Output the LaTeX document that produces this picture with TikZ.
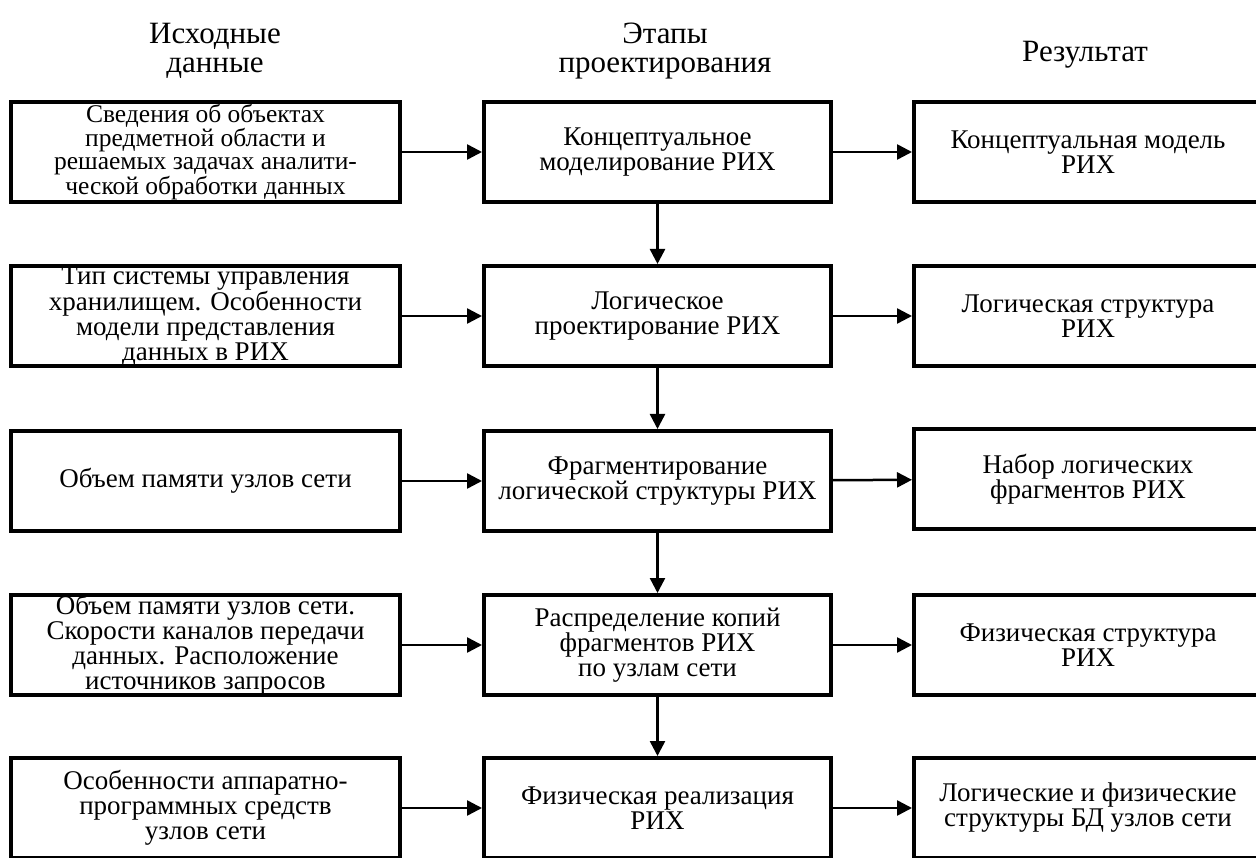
\documentclass[tikz,border=0pt]{standalone}
\usepackage{fontspec}
\setmainfont{Liberation Serif}
\usetikzlibrary{arrows.meta}

\begin{document}
\begin{tikzpicture}[x=1pt,y=1pt,
		box/.style={draw,line width=4pt,inner sep=0pt,minimum height=100pt,align=center,font=\fontsize{27}{25}\selectfont},
		src/.style={box,minimum width=389pt},
		stage/.style={box,minimum width=347pt},
		res/.style={box,minimum width=348pt},
		head/.style={align=center,font=\fontsize{31}{29}\selectfont},
		arr/.style={line width=2.5pt,-{Triangle[length=15pt,width=15pt]}}]
	\useasboundingbox (0,0) rectangle (1256,-858);
	\clip (0,0) rectangle (1256,-858);
	\node[head] (hsrc) at (215,-51) {Исходные\\данные};
	\node[head] (hstage) at (665,-51) {Этапы\\проектирования};
	\node[head] (hres) at (1085,-55) {Результат};
	\node[src,font=\fontsize{25.5}{23}\selectfont] (s1) at (205.5,-152) {Сведения об объектах\\предметной области и\\решаемых задачах аналити-\\ческой обработки данных};
	\node[src] (s2) at (205.5,-316) {Тип системы управления\\хранилищем. Особенности\\модели представления\\данных в РИХ};
	\node[src] (s3) at (205.5,-481) {Объем памяти узлов сети};
	\node[src] (s4) at (205.5,-645) {Объем памяти узлов сети.\\Скорости каналов передачи\\данных. Расположение\\источников запросов};
	\node[src] (s5) at (205.5,-808) {Особенности аппаратно-\\программных средств\\узлов сети};
	\node[stage] (e1) at (657.5,-152) {Концептуальное\\моделирование РИХ};
	\node[stage] (e2) at (657.5,-316) {Логическое\\проектирование РИХ};
	\node[stage] (e3) at (657.5,-481) {Фрагментирование\\логической структуры РИХ};
	\node[stage] (e4) at (657.5,-645) {Распределение копий\\фрагментов РИХ\\по узлам сети};
	\node[stage] (e5) at (657.5,-808) {Физическая реализация\\РИХ};
	\node[res,font=\fontsize{27}{23}\selectfont] (r1) at (1088,-152) {Концептуальная модель\\РИХ};
	\node[res] (r2) at (1088,-316) {Логическая структура\\РИХ};
	\node[res] (r3) at (1088,-479) {Набор логических\\фрагментов РИХ};
	\node[res] (r4) at (1088,-645) {Физическая структура\\РИХ};
	\node[res] (r5) at (1088,-808) {Логические и физические\\структуры БД узлов сети};
	\foreach \i in {1,...,5} {
		\draw[arr] (s\i) -- (e\i);
		\draw[arr] (e\i) -- (r\i);
	}
	\foreach \i/\j in {1/2,2/3,3/4,4/5}
		\draw[arr] (e\i) -- (e\j);
\end{tikzpicture}
\end{document}
